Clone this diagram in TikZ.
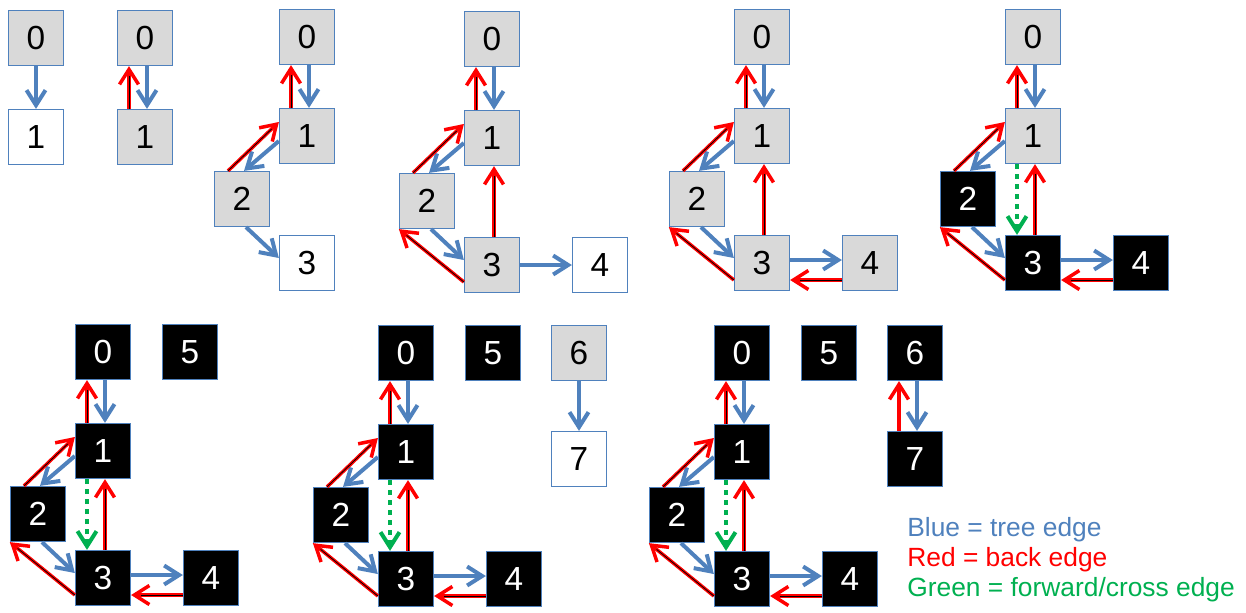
\documentclass[tikz,border=0pt]{standalone}
\usepackage{fontspec}
\setmainfont{Liberation Sans}
\usetikzlibrary{arrows.meta}
\definecolor{boxline}{HTML}{4F81BD}
\definecolor{treeblue}{HTML}{4F81BD}
\definecolor{greyfill}{HTML}{D9D9D9}
\definecolor{fwdgreen}{HTML}{00B050}
\tikzset{
  vertex/.style={draw=boxline, line width=0.25mm, minimum size=11mm, inner sep=0pt,
    font=\fontsize{19}{22}\selectfont},
  unseen/.style={vertex, fill=white},
  active/.style={vertex, fill=greyfill},
  finished/.style={vertex, fill=black, text=white},
  barb/.style={-{Straight Barb[length=3mm,width=3.8mm]}},
  tree/.style={draw=treeblue, line width=0.8mm, barb},
  back/.style={draw=red, line width=0.7mm, barb,
    postaction={draw=black, line width=0.15mm, -, shorten >=2mm}},
  backplain/.style={draw=red, line width=0.7mm, barb},
  fwd/.style={draw=fwdgreen, line width=0.8mm, dash pattern=on 1mm off 1mm, barb},
}
\begin{document}
\begin{tikzpicture}[x=0.2mm, y=-0.2mm]
  \useasboundingbox (0,0) rectangle (1246,612);
  % step 1
  \begin{scope}[shift={(36,38)}]
    \node[active] (a0) at (0,0) {0};
    \node[unseen] (a1) at (0,99) {1};
    \draw[tree] (a0.south) -- (a1.north);
  \end{scope}
  % step 2
  \begin{scope}[shift={(145,38)}]
    \node[active] (b0) at (0,0) {0};
    \node[active] (b1) at (0,99) {1};
    \draw[tree] ([xshift=0.4mm]b0.south) -- ([xshift=0.4mm]b1.north);
    \draw[back] ([xshift=-3.2mm]b1.north) -- ([xshift=-3.2mm]b0.south);
  \end{scope}
  % step 3
  \begin{scope}[shift={(307,37)}]
    \node[active] (c0) at (0,0) {0};
    \node[active] (c1) at (0,99) {1};
    \node[active] (c2) at (-65,162) {2};
    \node[unseen] (c3) at (0,226) {3};
    \draw[tree] ([xshift=0.4mm]c0.south) -- ([xshift=0.4mm]c1.north);
    \draw[back] ([xshift=-3.2mm]c1.north) -- ([xshift=-3.2mm]c0.south);
    \draw[tree] ([yshift=-1mm]c1.west) -- ([xshift=0.4mm]c2.north);
    \draw[back] ([xshift=-2.8mm]c2.north) -- ([yshift=2.8mm]c1.west);
    \draw[tree] ([xshift=0.8mm]c2.south) -- ([yshift=1mm]c3.west);
  \end{scope}
  % step 4
  \begin{scope}[shift={(492,39)}]
    \node[active] (d0) at (0,0) {0};
    \node[active] (d1) at (0,99) {1};
    \node[active] (d2) at (-65,162) {2};
    \node[active] (d3) at (0,226) {3};
    \node[unseen] (d4) at (108,226) {4};
    \draw[tree] ([xshift=0.4mm]d0.south) -- ([xshift=0.4mm]d1.north);
    \draw[back] ([xshift=-3.2mm]d1.north) -- ([xshift=-3.2mm]d0.south);
    \draw[tree] ([yshift=-1mm]d1.west) -- ([xshift=0.4mm]d2.north);
    \draw[back] ([xshift=-2.8mm]d2.north) -- ([yshift=2.8mm]d1.west);
    \draw[tree] ([xshift=0.8mm]d2.south) -- ([yshift=1mm]d3.west);
    \draw[back] ([yshift=-3.4mm]d3.west) -- (d2.south west);
    \draw[back] ([xshift=0.4mm]d3.north) -- ([xshift=0.4mm]d1.south);
    \draw[tree] (d3.east) -- (d4.west);
  \end{scope}
  % step 5
  \begin{scope}[shift={(762,37)}]
    \node[active] (e0) at (0,0) {0};
    \node[active] (e1) at (0,99) {1};
    \node[active] (e2) at (-65,162) {2};
    \node[active] (e3) at (0,226) {3};
    \node[active] (e4) at (108,226) {4};
    \draw[tree] ([xshift=0.4mm]e0.south) -- ([xshift=0.4mm]e1.north);
    \draw[back] ([xshift=-3.2mm]e1.north) -- ([xshift=-3.2mm]e0.south);
    \draw[tree] ([yshift=-1mm]e1.west) -- ([xshift=0.4mm]e2.north);
    \draw[back] ([xshift=-2.8mm]e2.north) -- ([yshift=2.8mm]e1.west);
    \draw[tree] ([xshift=0.8mm]e2.south) -- ([yshift=1mm]e3.west);
    \draw[back] ([yshift=-3.4mm]e3.west) -- (e2.south west);
    \draw[back] ([xshift=0.4mm]e3.north) -- ([xshift=0.4mm]e1.south);
    \draw[tree] ([yshift=0.6mm]e3.east) -- ([yshift=0.6mm]e4.west);
    \draw[back] ([yshift=-3.4mm]e4.west) -- ([yshift=-3.4mm]e3.east);
  \end{scope}
  % step 6
  \begin{scope}[shift={(1033,37)}]
    \node[active] (f0) at (0,0) {0};
    \node[active] (f1) at (0,99) {1};
    \node[finished] (f2) at (-65,162) {2};
    \node[finished] (f3) at (0,226) {3};
    \node[finished] (f4) at (108,226) {4};
    \draw[tree] ([xshift=0.4mm]f0.south) -- ([xshift=0.4mm]f1.north);
    \draw[back] ([xshift=-3.2mm]f1.north) -- ([xshift=-3.2mm]f0.south);
    \draw[tree] ([yshift=-1mm]f1.west) -- ([xshift=0.4mm]f2.north);
    \draw[back] ([xshift=-2.8mm]f2.north) -- ([yshift=2.8mm]f1.west);
    \draw[tree] ([xshift=0.8mm]f2.south) -- ([yshift=1mm]f3.west);
    \draw[back] ([yshift=-3.4mm]f3.west) -- (f2.south west);
    \draw[back] ([xshift=0.4mm]f3.north) -- ([xshift=0.4mm]f1.south);
    \draw[fwd] ([xshift=-3.2mm]f1.south) -- ([xshift=-3.2mm]f3.north);
    \draw[tree] ([yshift=0.6mm]f3.east) -- ([yshift=0.6mm]f4.west);
    \draw[back] ([yshift=-3.4mm]f4.west) -- ([yshift=-3.4mm]f3.east);
  \end{scope}
  % step 7
  \begin{scope}[shift={(103,352)}]
    \node[finished] (g0) at (0,0) {0};
    \node[finished] (g5) at (87,0) {5};
    \node[finished] (g1) at (0,99) {1};
    \node[finished] (g2) at (-65,162) {2};
    \node[finished] (g3) at (0,226) {3};
    \node[finished] (g4) at (108,226) {4};
    \draw[tree] ([xshift=0.4mm]g0.south) -- ([xshift=0.4mm]g1.north);
    \draw[back] ([xshift=-3.2mm]g1.north) -- ([xshift=-3.2mm]g0.south);
    \draw[tree] ([yshift=-1mm]g1.west) -- ([xshift=0.4mm]g2.north);
    \draw[back] ([xshift=-2.8mm]g2.north) -- ([yshift=2.8mm]g1.west);
    \draw[tree] ([xshift=0.8mm]g2.south) -- ([yshift=1mm]g3.west);
    \draw[back] ([yshift=-3.4mm]g3.west) -- (g2.south west);
    \draw[back] ([xshift=0.4mm]g3.north) -- ([xshift=0.4mm]g1.south);
    \draw[fwd] ([xshift=-3.2mm]g1.south) -- ([xshift=-3.2mm]g3.north);
    \draw[tree] ([yshift=0.6mm]g3.east) -- ([yshift=0.6mm]g4.west);
    \draw[back] ([yshift=-3.4mm]g4.west) -- ([yshift=-3.4mm]g3.east);
  \end{scope}
  % step 8
  \begin{scope}[shift={(406,353)}]
    \node[finished] (h0) at (0,0) {0};
    \node[finished] (h5) at (87,0) {5};
    \node[active] (h6) at (173,0) {6};
    \node[unseen] (h7) at (173,106) {7};
    \node[finished] (h1) at (0,99) {1};
    \node[finished] (h2) at (-65,162) {2};
    \node[finished] (h3) at (0,226) {3};
    \node[finished] (h4) at (108,226) {4};
    \draw[tree] ([xshift=0.4mm]h0.south) -- ([xshift=0.4mm]h1.north);
    \draw[back] ([xshift=-3.2mm]h1.north) -- ([xshift=-3.2mm]h0.south);
    \draw[tree] ([yshift=-1mm]h1.west) -- ([xshift=0.4mm]h2.north);
    \draw[back] ([xshift=-2.8mm]h2.north) -- ([yshift=2.8mm]h1.west);
    \draw[tree] ([xshift=0.8mm]h2.south) -- ([yshift=1mm]h3.west);
    \draw[back] ([yshift=-3.4mm]h3.west) -- (h2.south west);
    \draw[back] ([xshift=0.4mm]h3.north) -- ([xshift=0.4mm]h1.south);
    \draw[fwd] ([xshift=-3.2mm]h1.south) -- ([xshift=-3.2mm]h3.north);
    \draw[tree] ([yshift=0.6mm]h3.east) -- ([yshift=0.6mm]h4.west);
    \draw[back] ([yshift=-3.4mm]h4.west) -- ([yshift=-3.4mm]h3.east);
    \draw[tree] (h6.south) -- (h7.north);
  \end{scope}
  % step 9
  \begin{scope}[shift={(742,353)}]
    \node[finished] (i0) at (0,0) {0};
    \node[finished] (i5) at (87,0) {5};
    \node[finished] (i6) at (173,0) {6};
    \node[finished] (i7) at (173,106) {7};
    \node[finished] (i1) at (0,99) {1};
    \node[finished] (i2) at (-65,162) {2};
    \node[finished] (i3) at (0,226) {3};
    \node[finished] (i4) at (108,226) {4};
    \draw[tree] ([xshift=0.4mm]i0.south) -- ([xshift=0.4mm]i1.north);
    \draw[back] ([xshift=-3.2mm]i1.north) -- ([xshift=-3.2mm]i0.south);
    \draw[tree] ([yshift=-1mm]i1.west) -- ([xshift=0.4mm]i2.north);
    \draw[back] ([xshift=-2.8mm]i2.north) -- ([yshift=2.8mm]i1.west);
    \draw[tree] ([xshift=0.8mm]i2.south) -- ([yshift=1mm]i3.west);
    \draw[back] ([yshift=-3.4mm]i3.west) -- (i2.south west);
    \draw[back] ([xshift=0.4mm]i3.north) -- ([xshift=0.4mm]i1.south);
    \draw[fwd] ([xshift=-3.2mm]i1.south) -- ([xshift=-3.2mm]i3.north);
    \draw[tree] ([yshift=0.6mm]i3.east) -- ([yshift=0.6mm]i4.west);
    \draw[back] ([yshift=-3.4mm]i4.west) -- ([yshift=-3.4mm]i3.east);
    \draw[tree] ([xshift=0.4mm]i6.south) -- ([xshift=0.4mm]i7.north);
    \draw[backplain] ([xshift=-3.2mm]i7.north) -- ([xshift=-3.2mm]i6.south);
  \end{scope}
  % legend
  \node[anchor=north west, align=left, inner sep=0pt,
    font=\fontsize{15}{17.2}\selectfont] (legend) at (907,517)
    {\textcolor{treeblue}{Blue = tree edge}\\
     \textcolor{red}{Red = back edge}\\
     \textcolor{fwdgreen}{Green = forward/cross edge}};
\end{tikzpicture}
\end{document}
